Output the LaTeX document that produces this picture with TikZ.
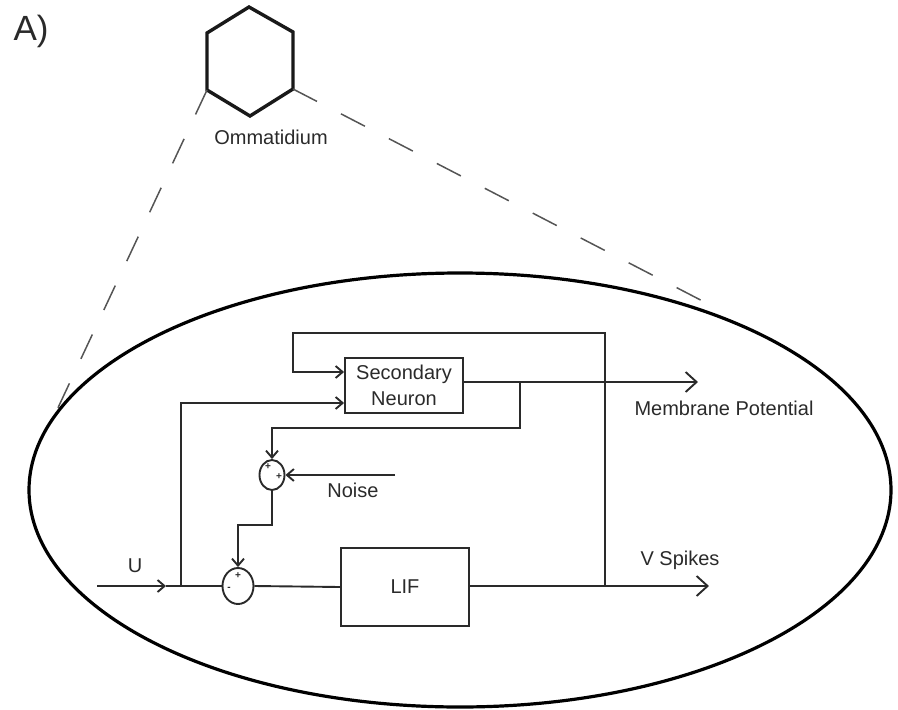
\documentclass[tikz,border=0pt]{standalone}
\usepackage{fontspec}
\setmainfont{Liberation Sans}
\usetikzlibrary{arrows.meta,shapes.geometric}
\definecolor{ink}{HTML}{2A2A2A}
\definecolor{dash}{HTML}{555555}
\begin{document}
\begin{tikzpicture}[x=1pt,y=1pt,
  wire/.style={draw=ink, line width=1.9pt},
  arrS/.style={wire, -{Straight Barb[length=7pt,width=12pt]}},
  arrL/.style={wire, -{Straight Barb[length=11pt,width=20pt]}},
  block/.style={draw=ink, line width=1.9pt, rectangle, inner sep=0pt, text=ink,
    font=\fontsize{20}{23}\selectfont, align=center},
  summer/.style={draw=ink, line width=1.9pt, ellipse, inner sep=0pt},
  lbl/.style={text=ink, inner sep=0pt, font=\fontsize{20}{23}\selectfont},
  sign/.style={text=ink, inner sep=0pt, font=\bfseries\fontsize{10}{10}\selectfont},
  zoomline/.style={draw=dash, line width=1.5pt, dash pattern=on 27pt off 27pt},
]
\useasboundingbox (0,0) rectangle (898,-710);

% panel letter
\node[text=ink, inner sep=0pt, font=\fontsize{35}{37}\selectfont] (panel) at (31,-31) {A)};

% ommatidium hexagon
\coordinate (h1) at (249,-7);
\coordinate (h2) at (293,-32);
\coordinate (h3) at (293,-89);
\coordinate (h4) at (250,-116);
\coordinate (h5) at (207,-90);
\coordinate (h6) at (207,-33);
\draw[line width=3.4pt, draw=black!90, line join=miter]
  (h1) -- (h2) -- (h3) -- (h4) -- (h5) -- (h6) -- cycle;
\node[lbl] (omm) at (271,-137) {Ommatidium};

% enlarged view of one ommatidium
\draw[line width=3.2pt, black] (460,-490) ellipse [x radius=431pt, y radius=217pt];
\coordinate (zl) at (56,-412);
\coordinate (zr) at (716,-308);
\draw[zoomline] (h5) -- (zl);
\draw[zoomline] (h3) -- (zr);

% blocks and summing junctions
\node[block, minimum width=118pt, minimum height=55pt] (sn) at (404,-385.5) {Secondary\\[3pt]Neuron};
\node[block, minimum width=128pt, minimum height=78pt] (lif) at (405,-587) {LIF};
\node[summer, minimum width=25pt, minimum height=30pt] (sA) at (272,-475) {};
\node[summer, minimum width=31pt, minimum height=36pt] (sB) at (238,-586) {};

% signs on the junctions
\node[sign] (pA1) at (268,-467) {+};
\node[sign] (pA2) at (279,-477) {+};
\node[sign] (pB1) at (238,-576) {+};
\node[sign] (mB1) at (229,-589) {-};

% free ends and branch points
\coordinate (uin) at (97,-586);
\coordinate (umid) at (166,-586);
\coordinate (ubr) at (181,-586);
\coordinate (noisein) at (395,-475);
\coordinate (mpout) at (698,-382);
\coordinate (obr) at (520,-382);
\coordinate (vbr) at (605,-586);
\coordinate (vout) at (709,-586);

% input U
\draw[arrS] (uin) -- (umid);
\draw[wire] (umid) -- (sB.west);
\draw[arrS] (ubr) |- ([yshift=-17.5pt]sn.west);

% spike feedback into the secondary neuron
\draw[arrS] (vbr) |- (293,-333) |- ([yshift=13.5pt]sn.west);

% membrane potential output and its branch to the noise junction
\draw[arrL] ([yshift=3.5pt]sn.east) -- (mpout);
\draw[arrS] (obr) |- (300,-428) -| (sA.north);
\draw[arrS] (noisein) -- (sA.east);
\draw[arrS] (sA.south) -- ++(0,-34) -| (sB.north);

% into and out of the LIF
\draw[wire] (sB.east) -- (lif.west);
\draw[arrL] (lif.east |- vout) -- (vout);

% labels
\node[lbl] (ulbl) at (135,-566) {U};
\node[lbl] (noiselbl) at (353,-490) {Noise};
\node[lbl] (mplbl) at (724,-408) {Membrane Potential};
\node[lbl] (vlbl) at (680,-560) {V Spikes};
\end{tikzpicture}
\end{document}
